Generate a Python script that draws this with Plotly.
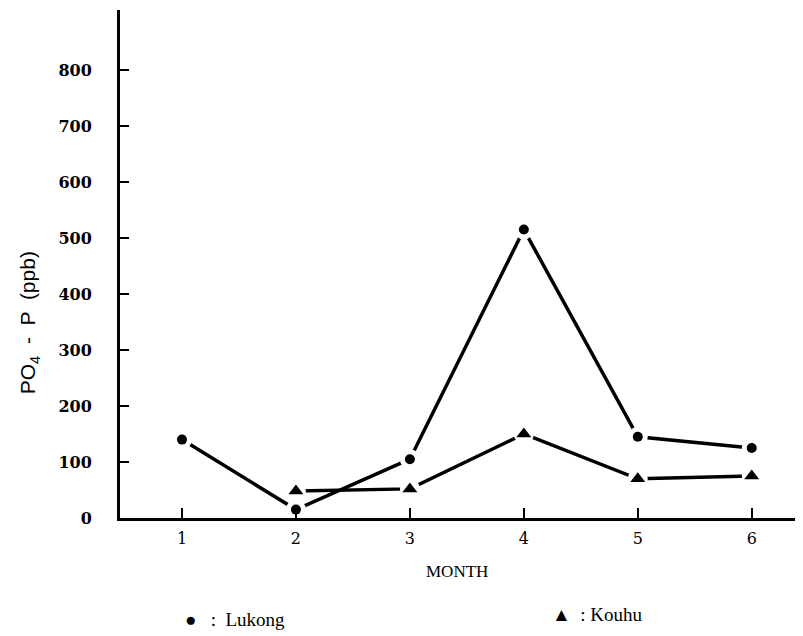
"""PO4-P monthly concentrations, Lukong vs Kouhu."""

import plotly.graph_objects as go

# Data
months = [1, 2, 3, 4, 5, 6]
lukong = [140, 15, 105, 515, 145, 125]
kouhu = [None, 48, 52, 150, 70, 75]
y_ticks = [0, 100, 200, 300, 400, 500, 600, 700, 800]

SERIF = "DejaVu Serif"

fig = go.Figure()

# connecting lines first, then white halos to leave small gaps, then the markers
for vals in (lukong, kouhu):
    fig.add_trace(
        go.Scatter(
            x=months, y=vals, mode="lines",
            line=dict(color="black", width=3.5), connectgaps=False,
            hoverinfo="skip",
        )
    )

for vals in (lukong, kouhu):
    fig.add_trace(
        go.Scatter(
            x=months, y=vals, mode="markers",
            marker=dict(color="white", size=20, symbol="circle"),
            hoverinfo="skip",
        )
    )

fig.add_trace(
    go.Scatter(
        x=months, y=lukong, mode="markers", name="Lukong",
        marker=dict(color="black", size=10, symbol="circle"),
    )
)
fig.add_trace(
    go.Scatter(
        x=months, y=kouhu, mode="markers", name="Kouhu",
        marker=dict(color="black", size=13, symbol="triangle-up"),
    )
)

fig.update_xaxes(
    range=[0.456, 6.45],
    tickvals=months,
    ticks="inside", ticklen=10, tickwidth=2, tickcolor="black",
    showline=True, linecolor="black", linewidth=3,
    showgrid=False, zeroline=False,
    tickfont=dict(family=SERIF, size=16, color="black"),
    ticklabelstandoff=4,
)
fig.update_yaxes(
    range=[0, 907],
    tickvals=y_ticks,
    ticks="inside", ticklen=9, tickwidth=2, tickcolor="black",
    showline=True, linecolor="black", linewidth=3,
    showgrid=False, zeroline=False,
    tickfont=dict(family=SERIF, size=16, color="black", weight="bold"),
    ticklabelstandoff=22,
)

fig.add_annotation(
    text="PO<sub>4</sub>  -  P  (ppb)", textangle=-90,
    xref="paper", yref="paper", x=-0.132, y=0.385,
    xanchor="center", yanchor="middle", showarrow=False,
    font=dict(family="Liberation Sans", size=21, color="black"),
)
fig.add_annotation(
    text="MONTH",
    xref="paper", yref="paper", x=0.494, y=-0.105,
    xanchor="center", yanchor="middle", showarrow=False,
    font=dict(family="Liberation Serif", size=17, color="black"),
)
fig.add_annotation(
    text="●   :  Lukong",
    xref="paper", yref="paper", x=0.092, y=-0.2,
    xanchor="left", yanchor="middle", showarrow=False,
    font=dict(family="Liberation Serif", size=19, color="black"),
)
fig.add_annotation(
    text="▲  : Kouhu",
    xref="paper", yref="paper", x=0.63, y=-0.19,
    xanchor="left", yanchor="middle", showarrow=False,
    font=dict(family="Liberation Serif", size=19, color="black"),
)

# the page adds an 8px body margin, so the figure is sized to fit the window
fig.update_layout(
    width=795, height=628,
    margin=dict(l=112, r=0, t=2, b=118),
    plot_bgcolor="white", paper_bgcolor="white",
    showlegend=False,
)

fig.write_html("out.html")
